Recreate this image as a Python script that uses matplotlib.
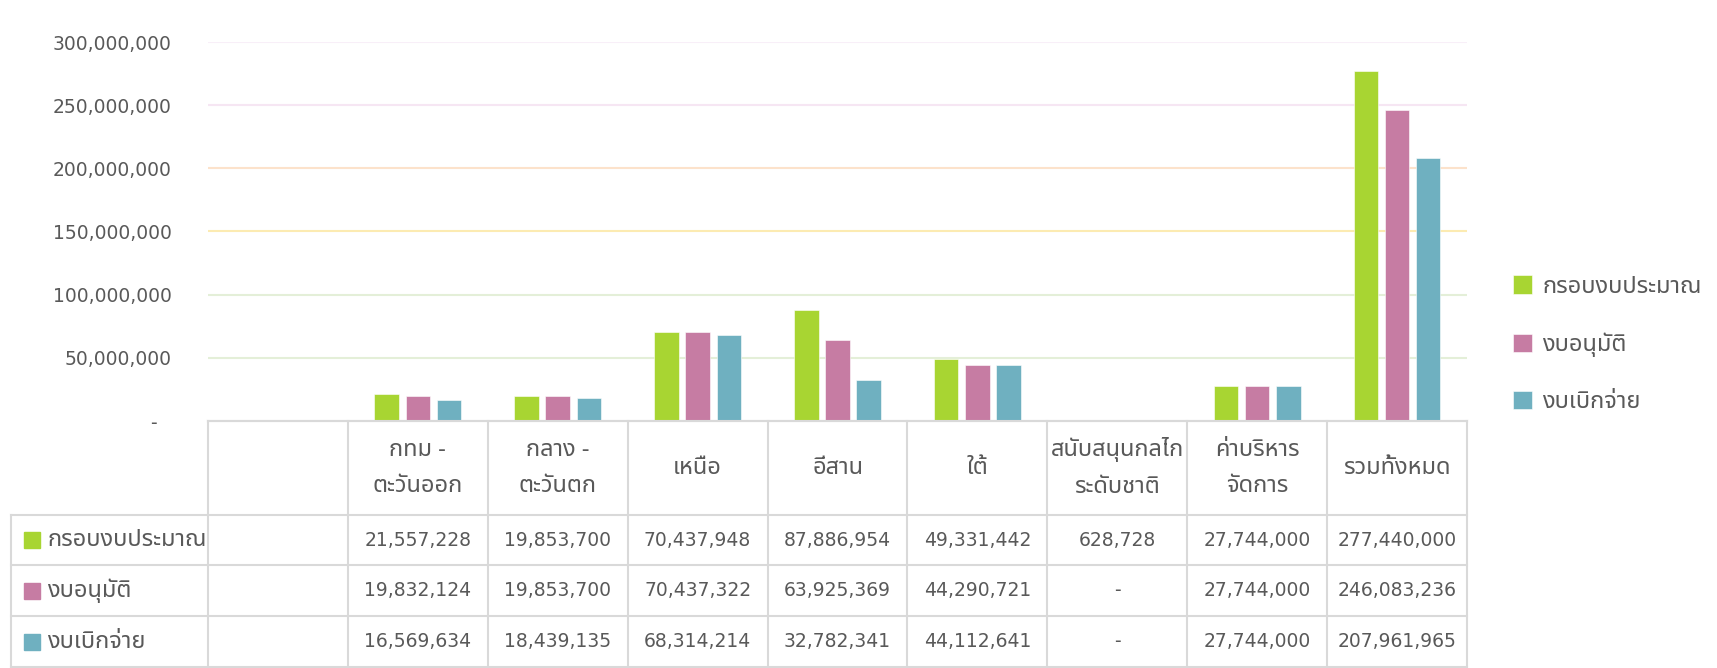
import numpy as np
import matplotlib
matplotlib.use('Agg')
import matplotlib.pyplot as plt
import matplotlib.transforms as mtransforms
from matplotlib import font_manager
from matplotlib.ft2font import FT2Font

# ---------------- data ----------------
categories = ['', 'กทม -\nตะวันออก', 'กลาง -\nตะวันตก', 'เหนือ', 'อีสาน', 'ใต้',
              'สนับสนุนกลไก\nระดับชาติ', 'ค่าบริหาร\nจัดการ', 'รวมทั้งหมด']
series_names = ['กรอบงบประมาณ', 'งบอนุมัติ', 'งบเบิกจ่าย']
budget = [None, 21557228, 19853700, 70437948, 87886954, 49331442, 628728, 27744000, 277440000]
approved = [None, 19832124, 19853700, 70437322, 63925369, 44290721, 0, 27744000, 246083236]
disbursed = [None, 16569634, 18439135, 68314214, 32782341, 44112641, 0, 27744000, 207961965]
y_ticks = [0, 50000000, 100000000, 150000000, 200000000, 250000000, 300000000]

# ---------------- styles ----------------
colors = ['#A8D532', '#C67CA3', '#6FB0C0']
grid_colors = [None, '#E4EFD8', '#E4EFD8', '#FCEBB2', '#FCE2CB', '#F6E6F3', '#F8EFF8']
text_color = '#595959'
border_color = '#D9D9D9'
FS = 13.5
FS_TH = 17

# find a font with Thai glyphs
preferred = ['Tahoma', 'Noto Sans Thai', 'Noto Sans Thai UI', 'Loma', 'Garuda', 'Sarabun',
             'Waree', 'Umpush', 'Norasi', 'Kinnari', 'Laksaman', 'Noto Looped Thai', 'Noto Serif Thai']
cands = {}
for f in font_manager.fontManager.ttflist:
    try:
        cm = FT2Font(f.fname).get_charmap()
    except Exception:
        continue
    if 0x0E01 in cm and 0x0E13 in cm and 0x0E34 in cm:
        cands.setdefault(f.name, f.fname)
thai = None
for p in preferred:
    if p in cands:
        thai = p
        break
if thai is None and cands:
    thai = sorted(cands)[0]
thai_family = [thai, 'DejaVu Sans'] if thai else ['DejaVu Sans']
num_family = ['DejaVu Sans']

plt.rcParams['font.family'] = num_family

W, H = 1717, 668
fig = plt.figure(figsize=(W / 100, H / 100), dpi=100)

plot_l, plot_r, plot_t, plot_b = 208, 1467, 42, 421
tab_l, tab_b = 11, 667
ncat = len(categories)
col_w = (plot_r - plot_l) / ncat

ax = fig.add_axes([plot_l / W, (H - plot_b) / H, (plot_r - plot_l) / W, (plot_b - plot_t) / H])
x = np.arange(ncat)
series = [budget, approved, disbursed]
bw, step = 0.175, 0.223
bars = []
for k, (name, vals) in enumerate(zip(series_names, series)):
    v = np.array([np.nan if a is None else a for a in vals], dtype=float)
    b = ax.bar(x + (k - 1) * step, v, width=bw, color=colors[k], label=name,
               edgecolor='white', linewidth=0.4, zorder=3)
    bars.append(b)

ax.set_xlim(-0.5, ncat - 0.5)
ax.set_ylim(0, 300000000)
ax.set_yticks(y_ticks)
ax.set_yticklabels(['-' if t == 0 else f'{t:,}' for t in y_ticks])
ax.tick_params(axis='y', length=0, pad=26, labelsize=FS, labelcolor=text_color)
ax.set_xticks([])
for s in ['top', 'right', 'left']:
    ax.spines[s].set_visible(False)
ax.spines['bottom'].set_color(border_color)
ax.spines['bottom'].set_linewidth(1.5)
for t, c in zip(y_ticks, grid_colors):
    if c:
        ax.axhline(t, color=c, lw=1.5, zorder=1)
# shift the '-' zero label left (accounting format)
zl = ax.get_yticklabels()[0]
zl.set_transform(zl.get_transform() + mtransforms.ScaledTranslation(-15 / 100, 0, fig.dpi_scale_trans))

leg = ax.legend(handles=bars, loc='center left', bbox_to_anchor=(1513 / W, 1 - 344.5 / H),
                bbox_transform=fig.transFigure, frameon=False, borderpad=0, borderaxespad=0,
                handlelength=0.8, handleheight=0.8, handletextpad=0.45, labelspacing=1.42,
                prop={'family': thai_family, 'size': FS_TH})
for t in leg.get_texts():
    t.set_color(text_color)

# ---------------- data table ----------------
header_h, row_h = 94, 51
total_h = header_h + 3 * row_h
label_cols = (plot_l - tab_l) / col_w
tax = fig.add_axes([tab_l / W, (H - tab_b) / H, (plot_r - tab_l) / W, (tab_b - plot_b) / H])
tax.set_xlim(-0.5 - label_cols, ncat - 0.5)
tax.set_ylim(total_h, 0)
tax.axis('off')
left_x = -0.5 - label_cols
lk = dict(color=border_color, lw=1.5, clip_on=False, solid_capstyle='projecting')
# horizontal lines
tax.plot([-0.5, ncat - 0.5], [0, 0], **lk)
for r in range(4):
    yy = header_h + r * row_h
    tax.plot([left_x, ncat - 0.5], [yy, yy], **lk)
# vertical lines
for i in range(ncat + 1):
    tax.plot([i - 0.5, i - 0.5], [0, total_h], **lk)
tax.plot([left_x, left_x], [header_h, total_h], **lk)

for i, cat in enumerate(categories):
    if cat:
        tax.text(i, header_h / 2, cat, ha='center', va='center', fontsize=FS_TH,
                 color=text_color, family=thai_family, linespacing=1.7)


def fmt(v):
    if v is None:
        return ''
    if v == 0:
        return '-'
    return f'{v:,}'


for r, (name, vals) in enumerate(zip(series_names, series)):
    yc = header_h + (r + 0.5) * row_h
    key_x = left_x + (32 - tab_l) / col_w
    tax.plot([key_x], [yc], marker='s', markersize=11.5, color=colors[r], clip_on=False)
    tax.text(left_x + (47 - tab_l) / col_w, yc, name, ha='left', va='center', fontsize=FS_TH,
             color=text_color, family=thai_family)
    for i, v in enumerate(vals):
        s = fmt(v)
        if s:
            tax.text(i, yc, s, ha='center', va='center', fontsize=FS, color=text_color,
                     family=num_family)

fig.savefig('out.png', dpi=100)
